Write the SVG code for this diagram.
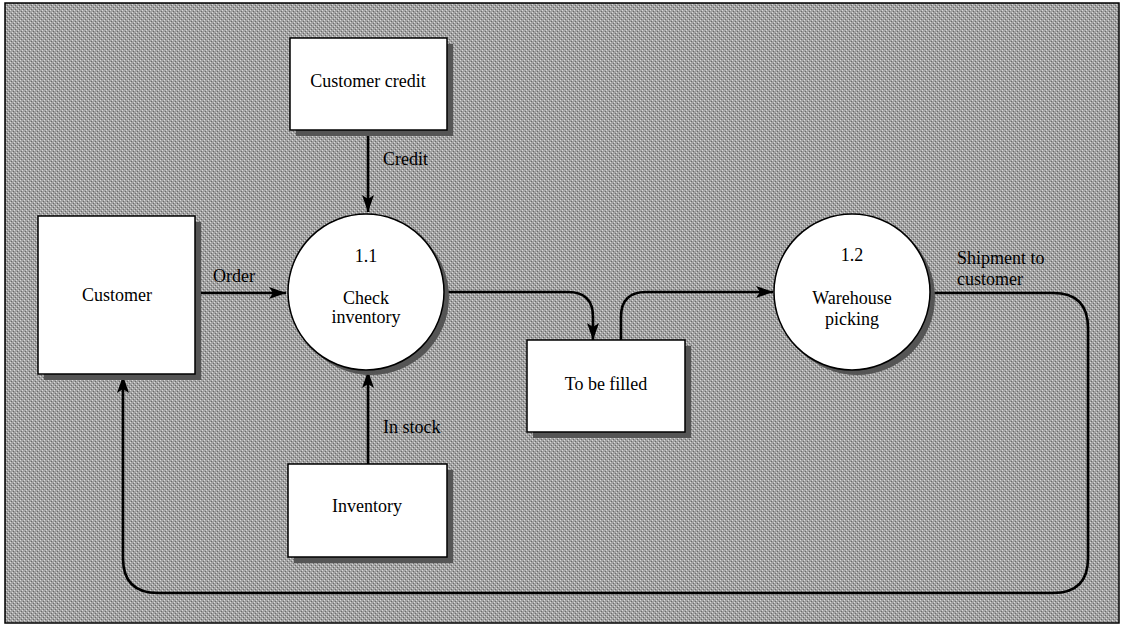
<svg xmlns="http://www.w3.org/2000/svg" width="1124" height="627" viewBox="0 0 1124 627">
<defs>
<marker id="ah" markerWidth="18" markerHeight="14" refX="17" refY="7" orient="auto" markerUnits="userSpaceOnUse">
<path d="M0,1 L17,7 L0,13 L4,7 Z" fill="#000"/>
</marker>
<pattern id="dither" width="4" height="4" patternUnits="userSpaceOnUse">
<rect width="4" height="4" fill="#a2a2a2"/>
<rect x="0" y="0" width="1" height="1" fill="#d8d8d8"/>
<rect x="2" y="2" width="1" height="1" fill="#d8d8d8"/>
<rect x="1" y="3" width="1" height="1" fill="#6a6a6a"/>
<rect x="3" y="1" width="1" height="1" fill="#6a6a6a"/>
</pattern>
</defs>
<style>
.box{fill:#fff;stroke:#000;stroke-width:1.5}
.shadow{fill:#555}
.proc{fill:#fff;stroke:#000;stroke-width:1.5}
.flow{fill:none;stroke:#000;stroke-width:2.6}
text{font-family:"Liberation Serif","Times New Roman","DejaVu Serif",serif;font-size:18px;fill:#000}
.c{text-anchor:middle}
</style>
<rect x="5" y="3" width="1114" height="620" fill="url(#dither)" stroke="#000" stroke-width="1.5"/>

<g id="connectors">
<path class="flow" d="M368,130 L368,212" marker-end="url(#ah)"/>
<path class="flow" d="M195,293 L286,293" marker-end="url(#ah)"/>
<path class="flow" d="M368,464 L368,371" marker-end="url(#ah)"/>
<path class="flow" d="M444,292 L568,292 Q593,292 593,317 L593,340" marker-end="url(#ah)"/>
<path class="flow" d="M621,340 L621,317 Q621,292 646,292 L773,292" marker-end="url(#ah)"/>
<path class="flow" d="M930,293 L1053,293 Q1088,293 1088,328 L1088,558 Q1088,593 1053,593 L158,593 Q123,593 123,558 L123,376" marker-end="url(#ah)"/>
</g>

<g id="customer-credit">
<rect class="shadow" x="296" y="44" width="157" height="92"/>
<rect class="box" x="290" y="38" width="157" height="92"/>
<text class="c" x="368" y="87">Customer credit</text>
</g>

<g id="customer">
<rect class="shadow" x="44" y="222" width="157" height="158"/>
<rect class="box" x="38" y="216" width="157" height="158"/>
<text class="c" x="117" y="301">Customer</text>
</g>

<g id="check-inventory">
<circle class="shadow" cx="371" cy="297" r="78"/>
<circle class="proc" cx="366" cy="292" r="78"/>
<text class="c" x="366" y="262">1.1</text>
<text class="c" x="366" y="304">Check</text>
<text class="c" x="366" y="323">inventory</text>
</g>

<g id="to-be-filled">
<rect class="shadow" x="533" y="346" width="158" height="92"/>
<rect class="box" x="527" y="340" width="158" height="92"/>
<text class="c" x="606" y="390">To be filled</text>
</g>

<g id="inventory">
<rect class="shadow" x="294" y="470" width="159" height="93"/>
<rect class="box" x="288" y="464" width="159" height="93"/>
<text class="c" x="367" y="512">Inventory</text>
</g>

<g id="warehouse-picking">
<circle class="shadow" cx="857" cy="297" r="78"/>
<circle class="proc" cx="852" cy="292" r="78"/>
<text class="c" x="852" y="261">1.2</text>
<text class="c" x="852" y="304">Warehouse</text>
<text class="c" x="852" y="325">picking</text>
</g>

<g id="labels">
<text x="383" y="165">Credit</text>
<text x="213" y="282">Order</text>
<text x="383" y="433">In stock</text>
<text x="957" y="264">Shipment to</text>
<text x="957" y="285">customer</text>
</g>
</svg>
